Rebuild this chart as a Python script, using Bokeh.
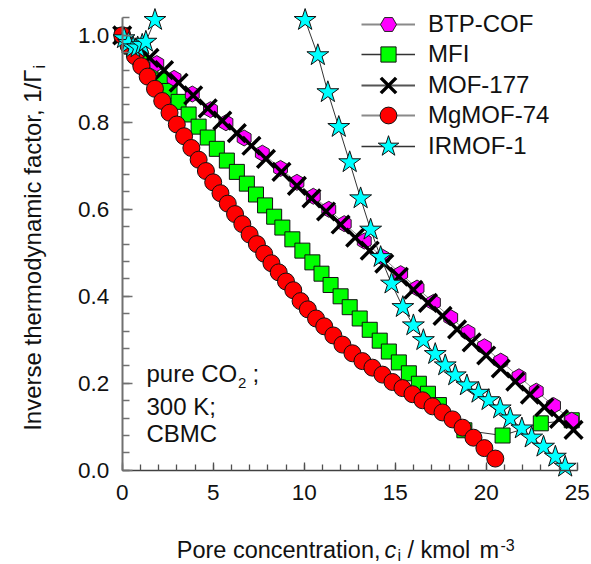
import numpy as np
from bokeh.plotting import figure
from bokeh.models import Range1d, Label, Legend, LegendItem, SingleIntervalTicker, NumeralTickFormatter
from bokeh.embed import file_html
from bokeh.resources import INLINE

# ---------------- data ----------------
btp_x = [0.0, 0.95, 1.9, 2.85, 3.85, 4.85, 5.7, 6.7, 7.7, 8.7, 9.6, 10.5, 11.35, 12.2, 13.3,
         14.3, 15.3, 16.2, 17.1, 18.05, 19.0, 19.9, 20.8, 21.8, 22.75, 23.7, 24.7]
btp_y = [1.0, 0.968, 0.935, 0.901, 0.865, 0.829, 0.799, 0.764, 0.729, 0.694, 0.662, 0.630, 0.600,
         0.567, 0.527, 0.490, 0.452, 0.419, 0.386, 0.351, 0.317, 0.284, 0.251, 0.215, 0.182, 0.149, 0.115]

mfi_x = [0.0, 0.5, 1.0, 1.55, 2.1, 2.6, 3.1, 3.65, 4.2, 4.7, 5.2, 5.75, 6.3, 6.85, 7.35, 7.85, 8.35,
         8.8, 9.35, 9.9, 10.45, 10.95, 11.45, 12.0, 12.5, 13.05, 13.6, 14.15, 14.65, 15.2, 15.75,
         16.3, 16.8, 17.4, 18.8, 20.9, 23.0, 24.7]
mfi_y = [1.0, 0.974, 0.948, 0.921, 0.896, 0.872, 0.847, 0.818, 0.790, 0.765, 0.739, 0.712, 0.686,
         0.659, 0.634, 0.609, 0.583, 0.558, 0.531, 0.505, 0.478, 0.452, 0.426, 0.400, 0.375, 0.349,
         0.323, 0.298, 0.273, 0.248, 0.223, 0.199, 0.176, 0.150, 0.092, 0.080, 0.108, 0.115]

mof177_x = [0.0, 0.75, 1.5, 2.3, 3.1, 3.9, 4.7, 5.5, 6.3, 7.1, 7.9, 8.75, 9.6, 10.4, 11.2, 12.0,
            12.8, 13.6, 14.4, 15.2, 16.0, 16.8, 17.6, 18.4, 19.2, 20.0, 20.8, 21.6, 22.4, 23.2,
            24.0, 24.8]
mof177_y = [1.0, 0.974, 0.948, 0.920, 0.891, 0.862, 0.832, 0.804, 0.775, 0.746, 0.716, 0.686,
            0.654, 0.625, 0.595, 0.565, 0.535, 0.505, 0.475, 0.445, 0.415, 0.385, 0.355, 0.324,
            0.294, 0.264, 0.234, 0.204, 0.174, 0.145, 0.118, 0.093]

mg_x = [0.0, 0.35, 0.7, 1.05, 1.4, 1.8, 2.2, 2.6, 3.0, 3.4, 3.8, 4.2, 4.6, 5.0, 5.4, 5.8, 6.2,
        6.6, 7.0, 7.4, 7.8, 8.2, 8.6, 9.0, 9.4, 9.8, 10.2, 10.65, 11.1, 11.6, 12.1, 12.65, 13.2,
        13.75, 14.3, 14.85, 15.4, 15.95, 16.5, 17.05, 17.6, 18.15, 18.7, 19.3, 19.9, 20.5]
mg_y = [1.0, 0.976, 0.952, 0.929, 0.905, 0.877, 0.849, 0.822, 0.795, 0.768, 0.741, 0.714, 0.688,
        0.662, 0.637, 0.613, 0.589, 0.566, 0.542, 0.520, 0.498, 0.476, 0.455, 0.434, 0.414, 0.389,
        0.370, 0.349, 0.331, 0.310, 0.289, 0.269, 0.251, 0.236, 0.220, 0.203, 0.189, 0.175, 0.161,
        0.147, 0.133, 0.117, 0.098, 0.075, 0.051, 0.027]

# IRMOF-1 leaves the plotted range between the two branches (gap = NaN)
irmof_x = [0.1, 0.35, 0.6, 0.85, 1.1, 1.3, 1.8, np.nan, 10.05, 10.75, 11.3, 11.9, 12.5, 13.1,
           13.65, 14.2, 14.8, 15.42, 16.0, 16.55, 17.2, 17.75, 18.3, 18.94, 19.58, 20.13, 20.77,
           21.32, 21.96, 22.5, 23.15, 23.8, 24.34]
irmof_y = [0.993, 0.982, 0.972, 0.972, 0.978, 0.985, 1.035, np.nan, 1.035, 0.954, 0.869, 0.789,
           0.708, 0.625, 0.553, 0.490, 0.429, 0.375, 0.333, 0.299, 0.267, 0.241, 0.218, 0.195,
           0.178, 0.161, 0.142, 0.119, 0.096, 0.075, 0.054, 0.031, 0.008]

series_names = ["BTP-COF", "MFI", "MOF-177", "MgMOF-74", "IRMOF-1"]
draw_order = ["MFI", "BTP-COF", "MOF-177", "MgMOF-74", "IRMOF-1"]
x_tick_interval = 5
y_tick_interval = 0.2

# ---------------- layout ----------------
W, H = 591, 564
X0PX, XSCALE = 121.7, 18.2     # screen x of c=0, px per unit
Y0PX, YSCALE = 469.8, 435.0    # screen y of 1/Gamma=0, px per unit
XR = (-X0PX / XSCALE, (W - X0PX) / XSCALE)
YR = (-(H - Y0PX) / YSCALE, Y0PX / YSCALE)
FONT = "Liberation Sans"
TXT = "#111111"

def dx(px):
    return XR[0] + px * (XR[1] - XR[0]) / W

def dy(py):
    return YR[1] - py * (YR[1] - YR[0]) / H

p = figure(width=W, height=H, output_backend="svg", toolbar_location=None,
           x_range=Range1d(*XR), y_range=Range1d(*YR),
           min_border_left=0, min_border_right=0, min_border_top=0, min_border_bottom=0)
p.outline_line_color = None
p.xgrid.grid_line_color = None
p.ygrid.grid_line_color = None
p.background_fill_color = "white"
p.border_fill_color = "white"

xa = p.xaxis[0]
ya = p.yaxis[0]
xa.fixed_location = 0
ya.fixed_location = 0
xa.bounds = (0, 25)
ya.bounds = (0, 1.04)
xa.ticker = SingleIntervalTicker(interval=x_tick_interval, num_minor_ticks=5)
ya.ticker = SingleIntervalTicker(interval=y_tick_interval, num_minor_ticks=5)
ya.formatter = NumeralTickFormatter(format="0.0")
for ax in (xa, ya):
    ax.major_tick_out = 0
    ax.minor_tick_out = 0
    ax.major_label_text_font = FONT
    ax.major_label_text_font_size = "22.5px"
    ax.major_label_text_color = TXT
xa.major_label_standoff = 15
ya.major_label_standoff = 13
xa.major_tick_in = 8
xa.minor_tick_in = 6
ya.major_tick_in = 10
ya.minor_tick_in = 7
xa.axis_line_color = "#404040"
xa.major_tick_line_color = "#505050"
xa.minor_tick_line_color = "#505050"
xa.axis_line_width = 1.5
ya.axis_line_color = "#707070"
ya.major_tick_line_color = "#707070"
ya.minor_tick_line_color = "#707070"
ya.axis_line_width = 2
for ax in (xa, ya):
    ax.major_tick_line_width = 1.3
    ax.minor_tick_line_width = 1.3

# leg_box: legend glyph box height (Bokeh draws the legend marker at 0.4 * box)
styles = {
    "BTP-COF": dict(x=btp_x, y=btp_y, marker="hex", size=16, angle=np.pi / 2, fill="#FF00FF",
                    mline="#222222", mlw=1, line="#8a8a8a", leg_lw=2.2, leg_box=40),
    "MFI": dict(x=mfi_x, y=mfi_y, marker="square", size=15, angle=0.0, fill="#00FF00",
                mline="#111111", mlw=1, line="#333333", leg_lw=1.6, leg_box=38),
    "MOF-177": dict(x=mof177_x, y=mof177_y, marker="x", size=25, angle=0.0, fill=None,
                    mline="#000000", mlw=3.5, line="#555555", leg_lw=2.0, leg_box=54),
    "MgMOF-74": dict(x=mg_x, y=mg_y, marker="circle", size=17, angle=0.0, fill="#FF0000",
                     mline="#111111", mlw=1, line="#8a8a8a", leg_lw=2.2, leg_box=42),
    "IRMOF-1": dict(x=irmof_x, y=irmof_y, marker="star", size=23, angle=0.0, fill="#00FFFF",
                    mline="#111111", mlw=1, line="#333333", leg_lw=1.6, leg_box=54),
}

def marker_kw(s):
    kw = dict(marker=s["marker"], size=s["size"], angle=s["angle"], line_color=s["mline"],
              line_width=s["mlw"])
    if s["fill"]:
        kw["fill_color"] = s["fill"]
    return kw

for name in draw_order:
    s = styles[name]
    xs = np.array(s["x"], dtype=float)
    ys = np.array(s["y"], dtype=float)
    p.line(xs, ys, line_color=s["line"], line_width=1)
    p.scatter(xs, ys, **marker_kw(s))

ROW0, PITCH = 24.0, 30.4   # legend row centres in the reference
for i, name in enumerate(series_names):
    s = styles[name]
    # legend-only renderers (one invisible NaN point)
    lr = p.line(np.array([np.nan]), np.array([np.nan]), line_color=s["line"], line_width=s["leg_lw"])
    mr = p.scatter(np.array([np.nan]), np.array([np.nan]), **marker_kw(s))
    gh = s["leg_box"]
    cy = ROW0 + i * PITCH
    lg = Legend(items=[LegendItem(label=name, renderers=[lr, mr])],
                location=(361, round(H - (cy + gh / 2))),
                padding=0, margin=0, spacing=0,
                glyph_width=54, glyph_height=gh, label_height=gh, label_standoff=13,
                label_text_font=FONT, label_text_font_size="24px", label_text_color=TXT,
                background_fill_alpha=0, border_line_color=None)
    p.add_layout(lg)

def lab(px, py, text, size=24.0, align="left", angle=0.0, style="normal"):
    shift = 0.33 * size  # renderer places the alphabetic baseline this much lower
    if angle == 0.0:
        py -= shift
    else:
        px -= shift
    p.add_layout(Label(x=dx(px), y=dy(py), text=text, text_font=FONT, text_font_size=f"{size}px",
                       text_color=TXT, text_align=align, text_baseline="alphabetic",
                       angle=angle, text_font_style=style))

# x axis title
lab(380, 557, "Pore concentration,", size=23.5, align="right")
lab(384, 557, "c", size=23.5, style="italic")
lab(397, 560, "i", size=16)
lab(407, 557, "/ kmol", size=23.5)
lab(479, 557, "m", size=23.5)
lab(500, 550, "-3", size=16)

# y axis title
lab(39.5, 69, "Inverse thermodynamic factor, 1/\u0393", size=24, align="right", angle=np.pi / 2)
lab(44.5, 68, "i", size=16, angle=np.pi / 2)

# annotation
lab(146, 381, "pure CO", size=24)
lab(237.5, 387, "2", size=15)
lab(252, 381, ";", size=24)
lab(146, 414, "300 K;", size=24)
lab(146, 441, "CBMC", size=24)

open("out.html", "w").write(file_html(p, INLINE))
